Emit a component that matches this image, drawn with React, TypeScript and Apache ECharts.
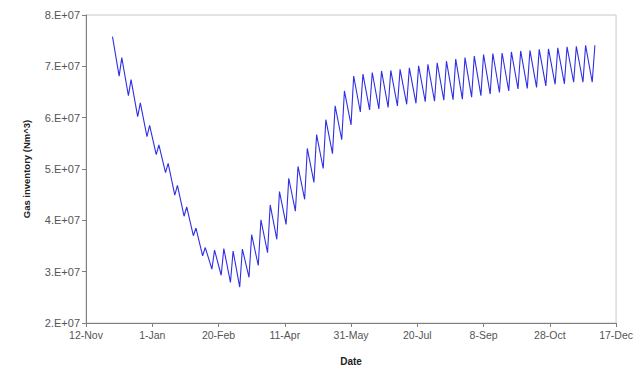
import React, { useEffect, useRef } from "react";
import * as echarts from "echarts";

// X axis runs in days counted from 12-Nov; one tick every 50 days.
const xTickLabels = ["12-Nov", "1-Jan", "20-Feb", "11-Apr", "31-May", "20-Jul", "8-Sep", "28-Oct", "17-Dec"];
const yTickLabels = ["2.E+07", "3.E+07", "4.E+07", "5.E+07", "6.E+07", "7.E+07", "8.E+07"];

// Weekly swing of the stored gas (Nm^3, in millions): each week starts at a high,
// falls over five days to a low, then climbs back over the weekend.
const firstHighDay = 20; // 2-Dec
const highToLowDays = 5;
const weeklyHigh = [
  75.8, 71.7, 67.4, 62.9, 58.5, 54.7, 51.1, 46.8, 42.6, 38.5,
  34.7, 34.2, 34.5, 34.0, 34.4, 37.2, 40.1, 43.0, 45.6, 48.2,
  50.5, 54.0, 56.7, 59.6, 62.3, 65.2, 68.1, 68.5, 68.8, 69.1,
  69.2, 69.4, 69.7, 70.1, 70.4, 70.7, 71.0, 71.4, 71.7, 72.0,
  72.3, 72.5, 72.6, 72.8, 73.0, 73.1, 73.3, 73.4, 73.6, 73.8,
  73.9, 74.1, 74.1,
];
const weeklyLow = [
  68.1, 64.3, 60.2, 56.3, 52.8, 49.3, 44.9, 40.8, 37.0, 33.1,
  30.5, 29.3, 27.9, 27.0, 28.9, 31.2, 33.7, 36.3, 39.2, 41.8,
  44.1, 47.4, 50.1, 53.0, 55.7, 58.6, 61.1, 61.5, 61.7, 62.0,
  62.3, 62.6, 62.8, 63.1, 63.2, 63.4, 63.5, 63.6, 64.0, 64.3,
  64.6, 64.9, 65.2, 65.6, 65.7, 65.9, 66.2, 66.5, 66.6, 66.9,
  66.9, 66.9,
];

function buildSeries(): [number, number][] {
  const pts: [number, number][] = [];
  weeklyHigh.forEach((h, k) => {
    const day = firstHighDay + 7 * k;
    pts.push([day, h * 1e6]);
    if (k < weeklyLow.length) pts.push([day + highToLowDays, weeklyLow[k] * 1e6]);
  });
  return pts;
}

export default function App() {
  const ref = useRef<HTMLDivElement>(null);

  useEffect(() => {
    if (!ref.current) return;
    const chart = echarts.init(ref.current, null, { renderer: "svg" });
    const font = "Arial, 'Liberation Sans', sans-serif";
    chart.setOption({
      animation: false,
      backgroundColor: "#ffffff",
      grid: {
        left: 86,
        right: 16,
        top: 15,
        bottom: 45,
        show: true,
        borderColor: "#c8c8c8",
        borderWidth: 1,
      },
      xAxis: {
        type: "value",
        min: 0,
        max: 400,
        interval: 50,
        name: "Date",
        nameLocation: "middle",
        nameGap: 33,
        nameTextStyle: { fontFamily: font, fontSize: 10, fontWeight: "bold", color: "#222" },
        axisLine: { show: true, lineStyle: { color: "#808080", width: 1 } },
        axisTick: { show: true, length: 4, lineStyle: { color: "#808080" } },
        axisLabel: {
          margin: 6,
          fontFamily: font,
          fontSize: 10.5,
          color: "#555",
          formatter: (v: number) => xTickLabels[Math.round(v / 50)] ?? "",
        },
        splitLine: { show: false },
      },
      yAxis: {
        type: "value",
        min: 20000000,
        max: 80000000,
        interval: 10000000,
        name: "Gas inventory (Nm^3)",
        nameLocation: "middle",
        nameGap: 55,
        nameTextStyle: { fontFamily: font, fontSize: 9.5, fontWeight: "bold", color: "#222" },
        axisLine: { show: true, lineStyle: { color: "#808080", width: 1 } },
        axisTick: { show: true, length: 4, lineStyle: { color: "#808080" } },
        axisLabel: {
          margin: 6,
          fontFamily: font,
          fontSize: 11,
          color: "#555",
          formatter: (v: number) => yTickLabels[Math.round((v - 20000000) / 10000000)] ?? "",
        },
        splitLine: { show: false },
      },
      series: [
        {
          type: "line",
          data: buildSeries(),
          showSymbol: false,
          lineStyle: { color: "#2f2fe4", width: 1.1 },
          itemStyle: { color: "#2f2fe4" },
        },
      ],
    });
    return () => chart.dispose();
  }, []);

  return (
    <div
      ref={ref}
      style={{ position: "fixed", left: 0, top: 0, width: 636, height: 371, background: "#fff" }}
    />
  );
}
